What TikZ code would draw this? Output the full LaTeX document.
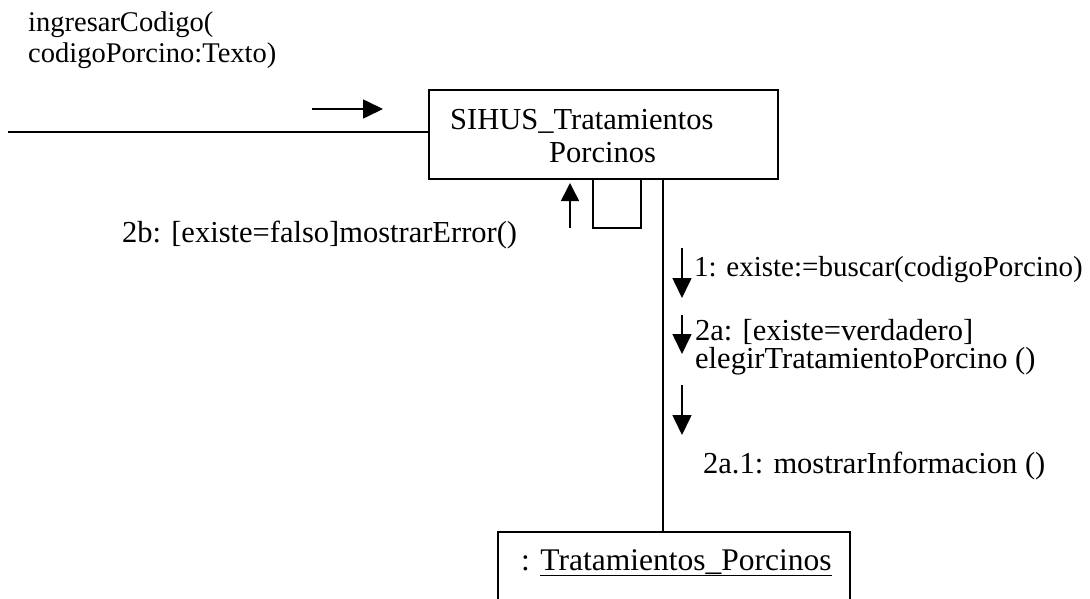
\documentclass[tikz,border=0pt]{standalone}
\usepackage{fontspec}
\setmainfont{Liberation Serif}
\usetikzlibrary{arrows.meta}
\tikzset{
  line/.style={line width=1.6pt},
  box/.style={draw, line width=1.6pt, inner sep=0pt},
  msg/.style={line width=1.6pt, -{Triangle[length=20pt,width=19pt]}},
  lbl/.style={anchor=base west, inner sep=0pt, font=\fontsize{30.5}{31}\selectfont},
}
\begin{document}
\begin{tikzpicture}[x=1pt,y=-1pt]
\useasboundingbox (0,0) rectangle (1090,599);
\clip (0,0) rectangle (1090,599);
% boxes
\node[box, minimum width=349pt, minimum height=89pt] (sihus) at (603.5,134.5) {};
\node[lbl] (sihusA) at (450,130) {SIHUS\_Tratamientos};
\node[lbl] (sihusB) at (549,163) {Porcinos};
\node[box, minimum width=352pt, minimum height=120pt] (trat) at (674,592) {};
\node[lbl, font=\fontsize{31.5}{32}\selectfont] (tratL) at (521,570) {: \underline{Tratamientos\_Porcinos}};
% links
\coordinate (start) at (8,132);
\draw[line] (start) -- (start -| sihus.west);
\coordinate (vx) at (663,0);
\draw[line] (sihus.south -| vx) -- (trat.north -| vx);
\coordinate (la) at (593,0);
\coordinate (lb) at (641,0);
\coordinate (lbot) at (0,228);
\draw[line] (sihus.south -| la) -- (la |- lbot) -- (lb |- lbot) -- (sihus.south -| lb);
% message arrows
\coordinate (m0a) at (312,109); \coordinate (m0b) at (383,109);
\draw[msg] (m0a) -- (m0b);
\coordinate (m2ba) at (570,228); \coordinate (m2bb) at (570,183);
\draw[line, -{Triangle[length=18pt,width=18pt]}] (m2ba) -- (m2bb);
\coordinate (m1a) at (682,248); \coordinate (m1b) at (682,298);
\draw[msg] (m1a) -- (m1b);
\coordinate (m2a) at (682,315); \coordinate (m2b) at (682,354);
\draw[msg] (m2a) -- (m2b);
\coordinate (m3a) at (682,385); \coordinate (m3b) at (682,435);
\draw[msg] (m3a) -- (m3b);
% labels
\node[lbl, font=\fontsize{28.5}{29}\selectfont] (t0a) at (28,32) {ingresarCodigo(};
\node[lbl, font=\fontsize{28.5}{29}\selectfont] (t0b) at (28,63) {codigoPorcino:Texto)};
\node[lbl] (t2b) at (122,242) {2b: [existe=falso]mostrarError()};
\node[lbl, font=\fontsize{29}{29}\selectfont] (t1) at (694,276) {1: existe:=buscar(codigoPorcino)};
\node[lbl] (t2a) at (695,340) {2a: [existe=verdadero]};
\node[lbl] (t2a2) at (695,368) {elegirTratamientoPorcino ()};
\node[lbl] (t3) at (703,473) {2a.1: mostrarInformacion ()};
\end{tikzpicture}
\end{document}
